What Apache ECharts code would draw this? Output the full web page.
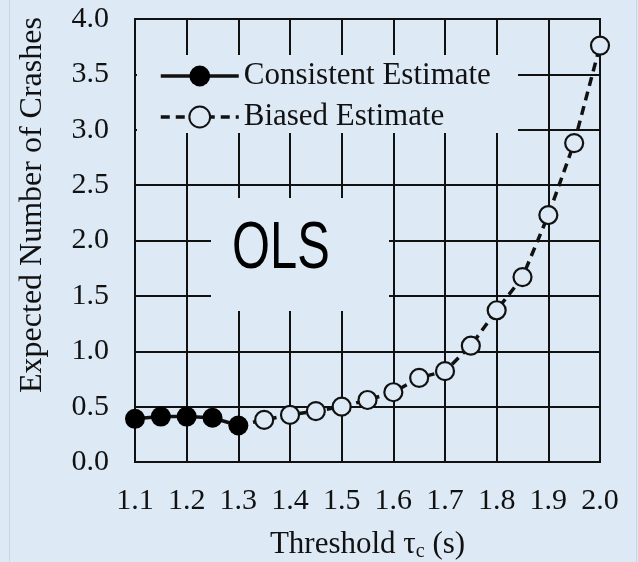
<!DOCTYPE html>
<html>
<head>
<meta charset="utf-8">
<script src="https://cdn.jsdelivr.net/npm/echarts@6/dist/echarts.min.js"></script>
<style>
  html, body { margin: 0; padding: 0; background: #dde9f5; }
  #chart { width: 638px; height: 562px; }
</style>
</head>
<body>
<div id="chart"></div>
<script>
// Threshold values (s) and expected crash counts
const consistentX = [1.1, 1.15, 1.2, 1.25, 1.3];
const consistentY = [0.39, 0.41, 0.41, 0.40, 0.33];

const biasedX = [1.3, 1.35, 1.4, 1.45, 1.5, 1.55, 1.6, 1.65, 1.7, 1.75, 1.8, 1.85, 1.9, 1.95, 2.0];
const biasedY = [0.33, 0.38, 0.425, 0.46, 0.50, 0.56, 0.63, 0.76, 0.82, 1.05, 1.37, 1.67, 2.23, 2.88, 3.76];

const seriesNames = ['Consistent Estimate', 'Biased Estimate'];
const xTitle = 'Threshold τ{sub|c} (s)';
const yTitle = 'Expected Number of Crashes';
const panelLabel = 'OLS';

const BG = '#dde9f5';
const INK = '#111111';
const SERIF = '"Liberation Serif", "Times New Roman", serif';

const consistentData = consistentX.map((x, i) => [x, consistentY[i]]);
// the dashed curve starts from the last consistent point; hide its marker there
const biasedData = biasedX.map((x, i) => {
  const item = { value: [x, biasedY[i]] };
  if (i === 0) item.symbol = 'none';
  return item;
});

const chart = echarts.init(document.getElementById('chart'), null, { renderer: 'canvas' });

chart.setOption({
  backgroundColor: BG,
  animation: false,
  grid: {
    left: 135, right: 38, top: 19, bottom: 100,
    outerBoundsMode: 'none',
    containLabel: false,
    show: true, borderColor: INK, borderWidth: 2, backgroundColor: 'transparent'
  },
  xAxis: {
    type: 'value',
    min: 1.1, max: 2.0, interval: 0.1,
    axisLine: { show: true, lineStyle: { color: INK, width: 2 } },
    axisTick: { show: false },
    splitLine: { show: true, lineStyle: { color: INK, width: 2 } },
    axisLabel: {
      color: INK, fontFamily: SERIF, fontSize: 30, margin: 24,
      formatter: v => v.toFixed(1)
    },
    name: xTitle,
    nameLocation: 'middle',
    nameGap: 66,
    nameTextStyle: {
      color: INK, fontFamily: SERIF, fontSize: 31,
      rich: { sub: { fontFamily: SERIF, fontSize: 20, color: INK, verticalAlign: 'bottom', padding: [14, 0, 0, 0] } }
    }
  },
  yAxis: {
    type: 'value',
    min: 0, max: 4, interval: 0.5,
    axisLine: { show: true, lineStyle: { color: INK, width: 2 } },
    axisTick: { show: false },
    splitLine: { show: true, lineStyle: { color: INK, width: 2 } },
    axisLabel: {
      color: INK, fontFamily: SERIF, fontSize: 30, margin: 26,
      formatter: v => v.toFixed(1)
    }
  },
  legend: {
    orient: 'vertical',
    left: 159, top: 59,
    padding: 0,
    itemWidth: 78, itemHeight: 26, itemGap: 7,
    lineStyle: { width: 3.5 },
    textStyle: { color: INK, fontFamily: SERIF, fontSize: 31, lineHeight: 34 },
    data: seriesNames
  },
  graphic: [
    // cleared panels behind the legend and the panel label
    { type: 'rect', z: 1, shape: { x: 137, y: 55, width: 381, height: 78 }, style: { fill: BG } },
    { type: 'rect', z: 1, shape: { x: 211, y: 198, width: 178, height: 113 }, style: { fill: BG } },
    {
      type: 'text', z: 3, x: 232, y: 217, scaleX: 0.74,
      style: { text: panelLabel, fill: '#000', font: '66px "Liberation Sans", Arial, sans-serif' }
    },
    {
      type: 'text', z: 3, x: 33, y: 205, rotation: Math.PI / 2,
      style: { text: yTitle, fill: INK, font: '32px ' + SERIF, align: 'center', verticalAlign: 'middle' }
    },
    // faint frame edges
    { type: 'line', z: 0, shape: { x1: 9.5, y1: 0, x2: 9.5, y2: 562 }, style: { stroke: '#c9d6e3', lineWidth: 1 } },
    { type: 'line', z: 0, shape: { x1: 636.5, y1: 0, x2: 636.5, y2: 562 }, style: { stroke: '#c9d6e3', lineWidth: 1 } }
  ],
  series: [
    {
      name: seriesNames[1],
      type: 'line',
      z: 5,
      data: biasedData,
      symbol: 'circle',
      symbolSize: 18,
      lineStyle: { color: INK, width: 3.5, type: [9, 6] },
      itemStyle: { color: BG, borderColor: INK, borderWidth: 2.2 }
    },
    {
      name: seriesNames[0],
      type: 'line',
      z: 6,
      data: consistentData,
      symbol: 'circle',
      symbolSize: 20,
      lineStyle: { color: INK, width: 3.5 },
      itemStyle: { color: '#000', borderColor: '#000', borderWidth: 0 }
    }
  ]
});
</script>
</body>
</html>
